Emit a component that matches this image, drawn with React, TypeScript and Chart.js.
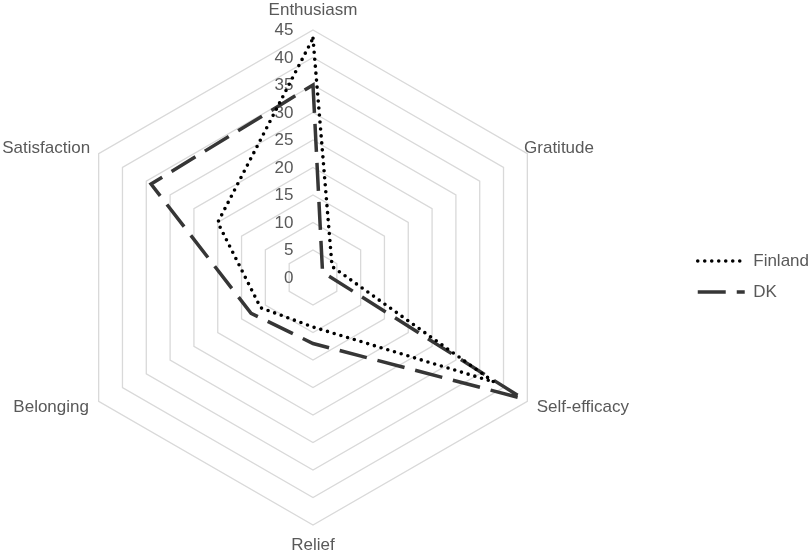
import React, { useEffect, useRef } from "react";
import { Chart, registerables } from "chart.js";

Chart.register(...registerables);

// ---- data ----
const categories = ["Enthusiasm", "Gratitude", "Self-efficacy", "Relief", "Belonging", "Satisfaction"];
const seriesNames = ["Finland", "DK"];
const finlandValues = [43.5, 4, 38, 9, 11, 20];
const dkValues = [35, 2, 44, 12, 13, 34];
const axisMin = 0;
const axisMax = 45;
const axisStep = 5;

// ---- styling ----
const FONT = "'Liberation Sans', Arial, sans-serif";
const TEXT_COLOR = "#595959";
const FONT_SIZE = 17;

// placement of each category label relative to its outer grid vertex
const labelPlacement: { align: CanvasTextAlign; dx: number; dy: number }[] = [
  { align: "center", dx: 0, dy: -15.5 },
  { align: "left", dx: -3.3, dy: -0.5 },
  { align: "left", dx: 9.4, dy: 10.5 },
  { align: "center", dx: 0, dy: 25 },
  { align: "right", dx: -9.7, dy: 10.5 },
  { align: "right", dx: -8.5, dy: -0.5 },
];

const textPlugin = {
  id: "radarText",
  beforeDatasetsDraw(chart: any) {
    const scale = chart.scales.r;
    const ctx = chart.ctx as CanvasRenderingContext2D;
    ctx.save();
    ctx.font = `${FONT_SIZE}px ${FONT}`;
    ctx.fillStyle = TEXT_COLOR;
    ctx.textAlign = "right";
    ctx.textBaseline = "middle";
    scale.ticks.forEach((t: any) => {
      const d = scale.getDistanceFromCenterForValue(t.value);
      ctx.fillText(String(t.label), scale.xCenter - 19.5, scale.yCenter - d + 0.5);
    });
    ctx.restore();
  },
  afterDraw(chart: any) {
    const scale = chart.scales.r;
    const ctx = chart.ctx as CanvasRenderingContext2D;
    ctx.save();
    ctx.font = `${FONT_SIZE}px ${FONT}`;
    ctx.fillStyle = TEXT_COLOR;
    ctx.textBaseline = "alphabetic";
    (chart.data.labels as string[]).forEach((lbl, i) => {
      const p = scale.getPointPosition(i, scale.drawingArea);
      const pl = labelPlacement[i];
      ctx.textAlign = pl.align;
      ctx.fillText(lbl, p.x + pl.dx, p.y + pl.dy);
    });
    ctx.restore();
  },
};

export default function App() {
  const ref = useRef<HTMLCanvasElement | null>(null);

  useEffect(() => {
    if (!ref.current) return;
    const chart = new Chart(ref.current, {
      type: "radar",
      data: {
        labels: categories,
        datasets: [
          {
            label: seriesNames[0],
            data: finlandValues,
            borderColor: "#000000",
            backgroundColor: "transparent",
            borderWidth: 3.6,
            borderDash: [0, 7],
            borderCapStyle: "round",
            borderJoinStyle: "round",
            fill: false,
            pointRadius: 0,
            pointHoverRadius: 0,
          },
          {
            label: seriesNames[1],
            data: dkValues,
            borderColor: "#363636",
            backgroundColor: "transparent",
            borderWidth: 3.5,
            borderDash: [28, 11],
            borderCapStyle: "butt",
            borderJoinStyle: "miter",
            fill: false,
            pointRadius: 0,
            pointHoverRadius: 0,
          },
        ],
      },
      options: {
        responsive: false,
        animation: false,
        layout: { padding: 0 },
        scales: {
          r: {
            min: axisMin,
            max: axisMax,
            ticks: { stepSize: axisStep, display: false },
            grid: { color: "#d9d9d9", lineWidth: 1.3, circular: false },
            angleLines: { display: false },
            pointLabels: { display: false },
            afterFit: (scale: any) => {
              scale.xCenter = 313;
              scale.yCenter = 277.5;
              scale.drawingArea = 247.5;
            },
          },
        },
        plugins: {
          tooltip: { enabled: false },
          legend: {
            position: "right",
            labels: {
              usePointStyle: true,
              pointStyle: "line",
              pointStyleWidth: 47,
              padding: 14,
              color: TEXT_COLOR,
              font: { family: FONT, size: FONT_SIZE },
              generateLabels: (c: any) =>
                c.data.datasets.map((ds: any, i: number) => ({
                  text: ds.label,
                  datasetIndex: i,
                  hidden: false,
                  fillStyle: "transparent",
                  strokeStyle: ds.borderColor,
                  lineWidth: ds.borderWidth,
                  lineDash: ds.borderDash,
                  lineCap: ds.borderCapStyle,
                  lineJoin: "miter",
                  pointStyle: "line",
                  fontColor: TEXT_COLOR,
                })),
            },
          },
        },
      },
      plugins: [textPlugin],
    } as any);
    return () => chart.destroy();
  }, []);

  return (
    <div style={{ position: "absolute", left: 0, top: 0, width: 809, height: 553, overflow: "hidden", background: "#fff" }}>
      <canvas ref={ref} width={819} height={553} style={{ display: "block", width: 819, height: 553 }} />
    </div>
  );
}
